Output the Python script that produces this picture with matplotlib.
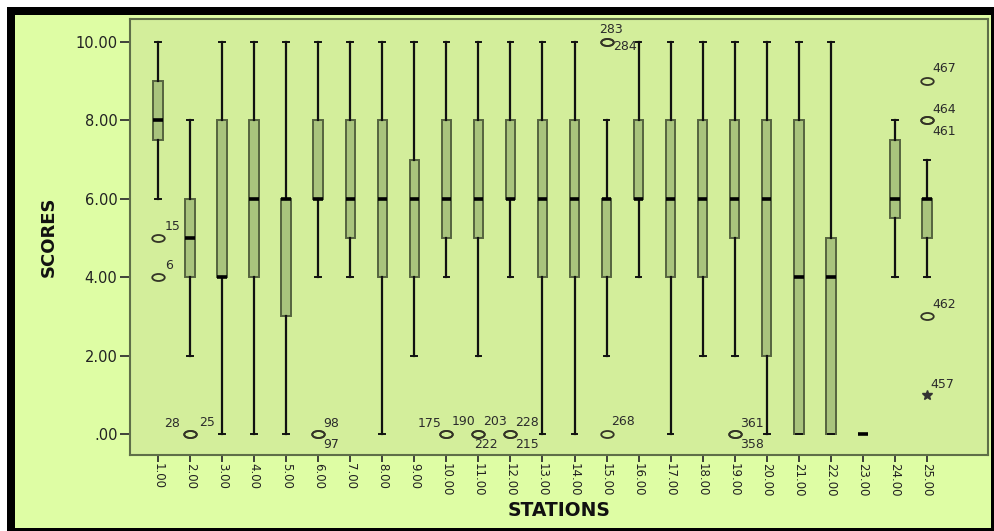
import matplotlib
matplotlib.use("Agg")
import matplotlib.pyplot as plt
from matplotlib import font_manager
from matplotlib.path import Path
from matplotlib.patches import Rectangle
from matplotlib.ticker import FuncFormatter

# five-number summaries per station
stations = list(range(1, 26))
whisker_low = [6, 2, 0, 0, 0, 4, 4, 0, 2, 4, 2, 4, 0, 0, 2, 4, 0, 2, 2, 0, 0, 0, 0, 4, 4]
q1 = [7.5, 4, 4, 4, 3, 6, 5, 4, 4, 5, 5, 6, 4, 4, 4, 6, 4, 4, 5, 2, 0, 0, 0, 5.5, 5]
median = [8, 5, 4, 6, 6, 6, 6, 6, 6, 6, 6, 6, 6, 6, 6, 6, 6, 6, 6, 6, 4, 4, 0, 6, 6]
q3 = [9, 6, 8, 8, 6, 8, 8, 8, 7, 8, 8, 8, 8, 8, 6, 8, 8, 8, 8, 8, 8, 5, 0, 7.5, 6]
whisker_high = [10, 8, 10, 10, 10, 10, 10, 10, 10, 10, 10, 10, 10, 10, 8, 10, 10, 10, 10, 10, 10, 10, 0, 8, 7]

# labelled outlying cases
case_station = [1, 1, 2, 2, 6, 6, 10, 10, 11, 11, 12, 12, 15, 15, 15, 19, 19, 25, 25, 25, 25, 25]
case_value = [5, 4, 0, 0, 0, 0, 0, 0, 0, 0, 0, 0, 10, 10, 0, 0, 0, 9, 8, 8, 3, 1]
case_id = ["15", "6", "28", "25", "98", "97", "175", "190", "203", "222", "228", "215",
           "283", "284", "268", "361", "358", "467", "464", "461", "462", "457"]
extreme_ids = ["457"]

available = {f.name for f in font_manager.fontManager.ttflist}
narrow = "Liberation Sans Narrow" if "Liberation Sans Narrow" in available else "DejaVu Sans"

W, H = 994, 531
fig = plt.figure(figsize=(W / 100, H / 100), dpi=100)
fig.patch.set_facecolor("white")
fig.patches.append(Rectangle((7 / W, 0), (W - 7) / W, (H - 7) / H, transform=fig.transFigure,
                             facecolor="black", edgecolor="none", zorder=-10))
fig.patches.append(Rectangle((15 / W, 3 / H), (991 - 15) / W, (528 - 15) / H, transform=fig.transFigure,
                             facecolor="#DEFDA4", edgecolor="none", zorder=-9))

ax = fig.add_axes([130 / W, 1 - 455 / H, (988 - 130) / W, (455 - 19) / H])
ax.set_facecolor("#D3EE9B")

stats = []
for i in range(len(stations)):
    stats.append({"whislo": whisker_low[i], "q1": q1[i], "med": median[i],
                  "q3": q3[i], "whishi": whisker_high[i], "fliers": []})

ax.bxp(stats, positions=stations, widths=0.3, capwidths=0.18, patch_artist=True,
       showfliers=False,
       boxprops=dict(facecolor="#A9C47D", edgecolor="#55643F", linewidth=1.4),
       whiskerprops=dict(color="#111111", linewidth=1.6),
       capprops=dict(color="#111111", linewidth=1.4),
       medianprops=dict(color="black", linewidth=2.6, solid_capstyle="butt"))

# flattened circle used by the outlier markers
circ = Path.unit_circle()
ellipse = Path(circ.vertices * [1, 0.56], circ.codes)

id_offsets = {
    "15": (7, 8, "left", "baseline"), "6": (7, 8, "left", "baseline"),
    "28": (-10, 7, "right", "baseline"), "25": (9, 8, "left", "baseline"),
    "98": (5, 7, "left", "baseline"), "97": (5, -4, "left", "top"),
    "175": (-5, 7, "right", "baseline"), "190": (5, 9, "left", "baseline"),
    "203": (5, 9, "left", "baseline"), "222": (-4, -4, "left", "top"),
    "228": (5, 8, "left", "baseline"), "215": (5, -4, "left", "top"),
    "283": (-7, 9, "left", "baseline"), "284": (7, 2, "left", "top"),
    "268": (5, 9, "left", "baseline"), "361": (5, 7, "left", "baseline"),
    "358": (5, -4, "left", "top"), "467": (6, 9, "left", "baseline"),
    "464": (6, 7, "left", "baseline"), "461": (6, -5, "left", "top"),
    "462": (6, 8, "left", "baseline"), "457": (4, 7, "left", "baseline"),
}

for s, v, cid in zip(case_station, case_value, case_id):
    if cid in extreme_ids:
        ax.plot(s, v, marker="*", ms=7, color="#333333", zorder=5)
    else:
        ax.plot(s, v, marker=ellipse, ms=9, mfc="none", mec="#333326", mew=1.3, zorder=5)
    dx, dy, ha, va = id_offsets[cid]
    ax.annotate(cid, (s, v), xytext=(dx, dy), textcoords="offset pixels",
                ha=ha, va=va, fontsize=9, color="#2b2b2b", zorder=6)

ax.set_xlim(0.121, 26.91)
ax.set_ylim(-0.536, 10.587)
ax.set_yticks([0, 2, 4, 6, 8, 10])
ax.yaxis.set_major_formatter(FuncFormatter(lambda v, p: f"{v:.2f}".lstrip("0")))
ax.set_xticks(stations)
ax.set_xticklabels([f"{s:.2f}" for s in stations], rotation=-90, fontsize=8.5,
                   family=narrow, color="#222222")
ax.tick_params(axis="y", length=7, width=1.3, color="#333333", pad=2,
               labelsize=10.5, labelcolor="#222222")
ax.tick_params(axis="x", length=5, width=1.3, color="#333333", pad=1)
for sp in ax.spines.values():
    sp.set_color("#5E6E48")
    sp.set_linewidth(1.5)

ax.set_xlabel("STATIONS", fontsize=13.5, fontweight="bold", color="#111111", labelpad=3)
ax.set_ylabel("SCORES", fontsize=13, fontweight="bold", color="#111111",
              family=narrow, labelpad=13)

fig.savefig("out.png", dpi=100, facecolor=fig.get_facecolor())
